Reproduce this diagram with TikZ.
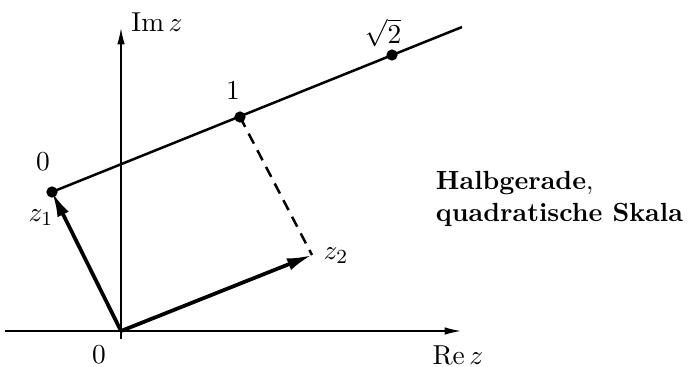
\documentclass[tikz,border=0pt]{standalone}
\usetikzlibrary{arrows.meta}
\begin{document}
\begin{tikzpicture}[x=0.4pt,y=-0.4pt,
  every node/.style={font=\fontsize{10.8}{13.5}\selectfont},
  axis/.style={line width=0.55pt,-{Latex[length=6.5pt,width=3pt]}},
  vec/.style={line width=1.5pt,-{Latex[length=10pt,width=5pt]}},
  halfline/.style={line width=1pt},
  dot/.style={circle,fill=black,inner sep=0pt,minimum size=4.5pt},
  lbl/.style={inner sep=1pt}]
\useasboundingbox (0,0) rectangle (689,367);
\coordinate (O) at (121,331);
\coordinate (xs) at (5,331);
\coordinate (xe) at (461,331);
\coordinate (ys) at (121,339);
\coordinate (ye) at (121,28);
\draw[axis] (xs) -- (xe);
\draw[axis] (ys) -- (ye);
\node[lbl] (rez) at (458,355) {$\mathrm{Re}\,z$};
\node[lbl] (imz) at (157,22) {$\mathrm{Im}\,z$};
\node[lbl] (zero) at (99,355) {$0$};
\node[dot] (p0) at (52,192) {};
\node[dot] (p1) at (240,117) {};
\node[dot] (p2) at (392,55) {};
\coordinate (lend) at (462,27);
\draw[halfline] (p0.center) -- (lend);
\node[lbl] (l0) at (43,162) {$0$};
\node[lbl] (l1) at (233,91) {$1$};
\node[lbl] (l2) at (383,33) {$\sqrt{2}$};
\coordinate (z2) at (312,255);
\draw[halfline,dashed,dash pattern=on 4.5pt off 3pt] (p1.center) -- (z2);
\draw[vec] (O) -- (p0.center);
\draw[vec] (O) -- (z2);
\node[lbl] (lz1) at (41,218) {$z_1$};
\node[lbl] (lz2) at (336,256) {$z_2$};
\node[lbl,align=left,anchor=west,font=\fontsize{10.5}{13}\selectfont] (txt) at (433,199) {\textbf{Halbgerade},\\\textbf{quadratische Skala}};
\end{tikzpicture}
\end{document}
